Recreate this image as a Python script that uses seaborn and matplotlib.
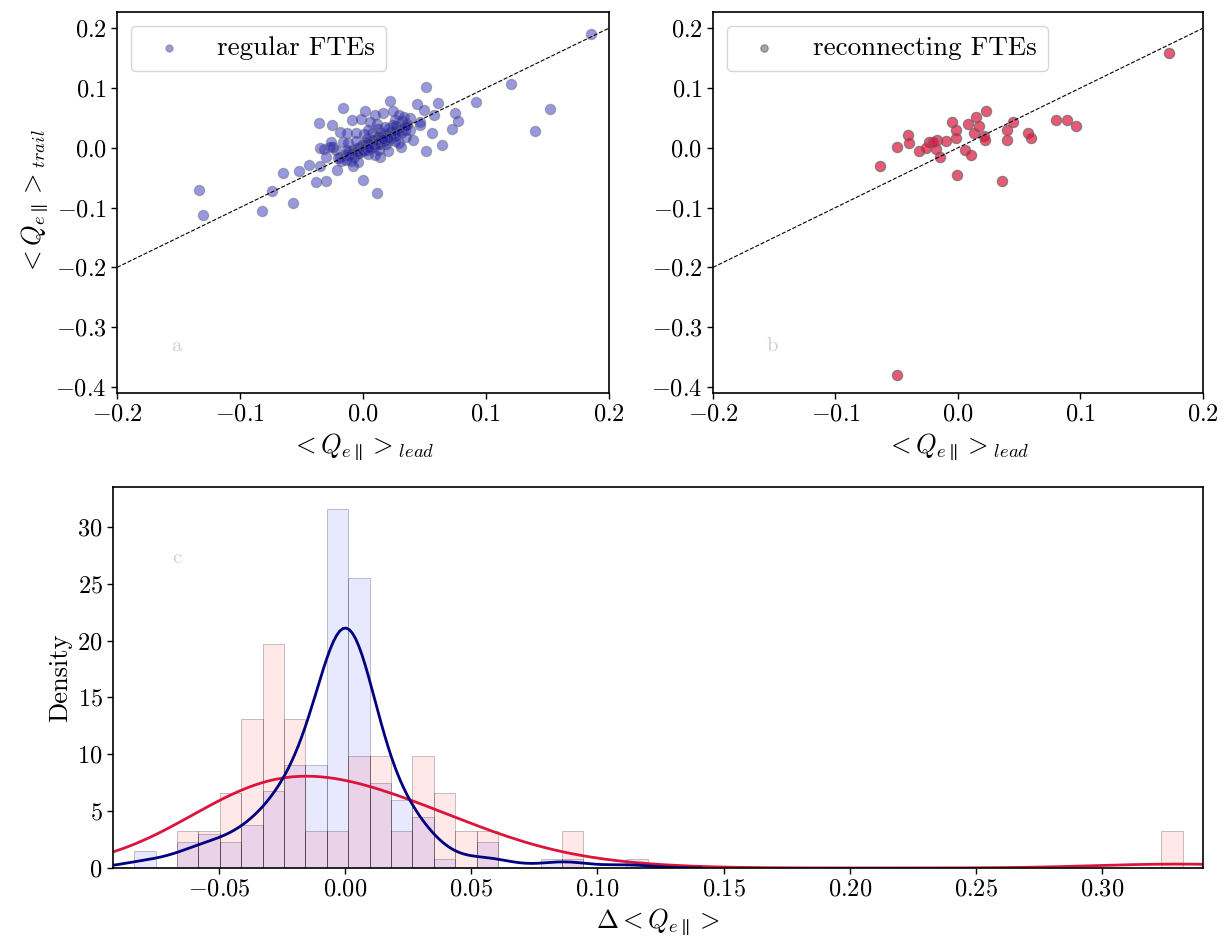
import numpy as np
import pandas as pd
import matplotlib
matplotlib.use("Agg")
import matplotlib.pyplot as plt
import seaborn as sns

# ---------------- data ----------------
# regular FTEs: <Q_e||>_lead and <Q_e||>_trail
regular_lead = [
    0.185, 0.120, 0.152, 0.140, 0.092, 0.051, 0.022, -0.016, -0.036, -0.025,
    -0.009, 0.002, -0.002, 0.016, 0.061, 0.044, 0.050, 0.058, 0.075, 0.077,
    0.072, 0.064, 0.051, 0.056, 0.046, 0.041, 0.031, 0.032, 0.038, -0.133,
    -0.130, -0.082, -0.074, -0.057, -0.065, -0.052, -0.044, -0.035, -0.038, -0.030,
    0.000, 0.011, -0.021, -0.008, -0.035, -0.024, -0.019, -0.030, 0.014, -0.004,
    -0.019, 0.027, 0.021, -0.032,
    # dense cluster
    -0.020, -0.015, -0.012, -0.010, -0.008, -0.006, -0.005, -0.003, -0.002, -0.001,
    0.000, 0.001, 0.002, 0.003, 0.004, 0.005, 0.006, 0.007, 0.008, 0.009,
    0.010, 0.011, 0.012, 0.013, 0.014, 0.015, 0.017, 0.018, 0.020, 0.021,
    0.023, 0.025, 0.027, 0.030, 0.033, 0.036,
    -0.018, -0.014, -0.011, -0.007, -0.005, -0.003, -0.001, 0.000, 0.002, 0.003,
    0.005, 0.006, 0.008, 0.009, 0.011, 0.012, 0.014, 0.016, 0.017, 0.019,
    0.021, 0.022, 0.024, 0.026, 0.028, 0.031, 0.034, 0.038,
    -0.010, 0.004, 0.013, 0.019, 0.026, 0.035,
    -0.004, 0.010, 0.020, 0.029,
    -0.013, 0.003, 0.015, 0.024,
    -0.022, -0.012, -0.006, 0.001, 0.007, 0.012, 0.018, 0.026, 0.033,
    -0.027, -0.016, -0.006, 0.004, 0.011, 0.029,
    -0.026, -0.013, 0.006, 0.024,
    0.010,
    0.005, 0.020, 0.046,
    0.035, 0.016,
]
regular_trail = [
    0.191, 0.107, 0.065, 0.028, 0.076, 0.101, 0.078, 0.066, 0.041, 0.038,
    0.046, 0.062, 0.048, 0.058, 0.075, 0.073, 0.063, 0.055, 0.058, 0.044,
    0.031, 0.004, -0.005, 0.025, 0.038, 0.013, 0.001, 0.044, 0.050, -0.070,
    -0.113, -0.106, -0.073, -0.092, -0.043, -0.039, -0.028, -0.031, -0.058, -0.055,
    -0.054, -0.075, -0.038, -0.031, 0.000, 0.002, -0.015, -0.015, -0.015, -0.009,
    0.026, 0.036, 0.033, -0.002,
    # dense cluster
    -0.017, -0.012, -0.007, -0.010, -0.004, -0.006, -0.001, 0.000, -0.003, 0.004,
    0.002, 0.001, 0.006, 0.004, 0.009, 0.006, 0.008, 0.013, 0.009, 0.012,
    0.010, 0.016, 0.014, 0.013, 0.018, 0.016, 0.020, 0.017, 0.025, 0.022,
    0.026, 0.025, 0.031, 0.032, 0.036, 0.040,
    -0.022, -0.020, -0.014, -0.015, -0.009, -0.008, -0.003, -0.006, -0.001, -0.004,
    0.001, 0.000, 0.005, 0.001, 0.006, 0.009, 0.007, 0.012, 0.011, 0.016,
    0.013, 0.017, 0.020, 0.019, 0.025, 0.025, 0.029, 0.030,
    -0.022, -0.010, -0.003, 0.007, 0.011, 0.018,
    -0.024, -0.012, -0.005, 0.008,
    -0.003, 0.015, 0.024, 0.038,
    -0.004, 0.008, 0.011, 0.023, 0.025, 0.031, 0.034, 0.047, 0.052,
    0.001, 0.010, 0.024, 0.030, 0.040, 0.054,
    0.010, 0.024, 0.043, 0.062,
    0.054,
    0.000, 0.016, 0.043,
    0.037, 0.015,
]

# reconnecting FTEs
reconnecting_lead = [
    0.172, -0.050, -0.064, -0.050, -0.041, -0.040, -0.032, -0.024, -0.026, -0.017,
    -0.015, -0.018, -0.005, -0.002, -0.002, -0.001, 0.006, 0.011, 0.015, 0.023,
    0.017, 0.013, 0.021, 0.022, 0.036, 0.045, 0.040, 0.040, 0.057, 0.060,
    0.080, 0.089, 0.096, -0.010, -0.020, 0.008,
]
reconnecting_trail = [
    0.159, -0.380, -0.030, 0.001, 0.022, 0.008, -0.006, 0.010, 0.000, 0.013,
    -0.015, -0.002, 0.043, 0.030, 0.016, -0.045, -0.004, -0.012, 0.052, 0.061,
    0.037, 0.024, 0.019, 0.013, -0.056, 0.043, 0.030, 0.013, 0.024, 0.017,
    0.047, 0.047, 0.037, 0.012, 0.010, 0.040,
]

diag = [-0.2, 0.2]
labels = ["regular FTEs", "reconnecting FTEs"]
x_ticks_top = [-0.2, -0.1, 0.0, 0.1, 0.2]
y_ticks_top = [-0.4, -0.3, -0.2, -0.1, 0.0, 0.1, 0.2]
x_ticks_bottom = [-0.05, 0.00, 0.05, 0.10, 0.15, 0.20, 0.25, 0.30]
y_ticks_bottom = [0, 5, 10, 15, 20, 25, 30]

# ---------------- style ----------------
sns.set_style("ticks")
plt.rcParams.update({
    "font.family": "serif",
    "font.serif": ["cmr10"],
    "mathtext.fontset": "cm",
    "axes.formatter.use_mathtext": True,
    "axes.unicode_minus": True,
    "font.size": 17,
    "axes.labelsize": 19,
    "xtick.labelsize": 17.5,
    "ytick.labelsize": 17.5,
    "legend.fontsize": 19.5,
    "axes.edgecolor": "black",
    "axes.linewidth": 1.2,
    "xtick.color": "black",
    "ytick.color": "black",
    "text.color": "black",
    "axes.labelcolor": "black",
})

BLUE = "navy"
RED = "crimson"

fig = plt.figure(figsize=(12.27, 9.40), dpi=100)
ax1 = fig.add_axes([0.0954, 0.582, 0.4009, 0.4052])
ax2 = fig.add_axes([0.5811, 0.582, 0.3993, 0.4052], sharey=ax1)
ax3 = fig.add_axes([0.0921, 0.0766, 0.8883, 0.4053])

df_reg = pd.DataFrame({"lead": regular_lead, "trail": regular_trail})
df_rec = pd.DataFrame({"lead": reconnecting_lead, "trail": reconnecting_trail})

# ---- top-left scatter ----
sns.scatterplot(data=df_reg, x="lead", y="trail", color="#1c1cb8", alpha=0.45, s=55,
                edgecolor="dimgray", linewidth=0.9, label=labels[0], ax=ax1)
sns.lineplot(x=diag, y=diag, color="black", linestyle="--", linewidth=0.8, ax=ax1)

# ---- top-right scatter ----
sns.scatterplot(data=df_rec, x="lead", y="trail", color=RED, alpha=0.7, s=55,
                edgecolor="dimgray", linewidth=0.9, label=labels[1], ax=ax2)
sns.lineplot(x=diag, y=diag, color="black", linestyle="--", linewidth=0.8, ax=ax2)

for ax, tag in [(ax1, "a"), (ax2, "b")]:
    ax.set_xlim(-0.2, 0.2)
    ax.set_ylim(-0.41, 0.227)
    ax.set_xticks(x_ticks_top)
    ax.set_yticks(y_ticks_top)
    ax.set_xlabel(r"$< Q_{e\parallel} >_{lead}$")
    ax.text(0.11, 0.11, tag, transform=ax.transAxes, color="#d0d0d0", fontsize=15)
    ax.tick_params(direction="out", length=4, width=1)

ax1.set_ylabel(r"$< Q_{e\parallel} >_{trail}$")
ax2.set_ylabel("")
ax2.tick_params(labelleft=True)

leg1 = ax1.legend(loc="upper left", markerscale=0.7)
leg2 = ax2.legend(loc="upper left", markerscale=0.7)
for h in leg2.legend_handles:
    h.set_facecolor((0.5, 0.5, 0.5, 0.8))

# ---- bottom: histogram + kde of difference ----
delta_reg = np.array(regular_lead) - np.array(regular_trail)
delta_rec = np.array(reconnecting_lead) - np.array(reconnecting_trail)
df_delta = pd.DataFrame({
    "delta": np.concatenate([delta_reg, delta_rec]),
    "type": [labels[0]] * len(delta_reg) + [labels[1]] * len(delta_rec),
})
hist_colors = {labels[0]: "blue", labels[1]: "red"}
for lab in labels:
    sns.histplot(data=df_delta[df_delta["type"] == lab], x="delta",
                 color=hist_colors[lab], stat="density", binwidth=0.0085,
                 binrange=(-0.0836, 0.3404), alpha=0.09,
                 edgecolor=(0, 0, 0, 0.4), linewidth=0.4, ax=ax3)
pal = {labels[0]: BLUE, labels[1]: RED}
sns.kdeplot(data=df_delta, x="delta", hue="type", hue_order=labels, palette=pal,
            common_norm=False, linewidth=2, legend=False, ax=ax3)
ax3.set_xlim(-0.092, 0.340)
ax3.set_ylim(0, 33.5)
ax3.set_xticks(x_ticks_bottom)
ax3.set_yticks(y_ticks_bottom)
ax3.set_xlabel(r"$\Delta < Q_{e\parallel} >$")
ax3.set_ylabel("Density")
ax3.text(0.054, 0.80, "c", transform=ax3.transAxes, color="#d0d0d0", fontsize=15)
ax3.tick_params(direction="out", length=4, width=1)

fig.savefig("out.png", dpi=100)
